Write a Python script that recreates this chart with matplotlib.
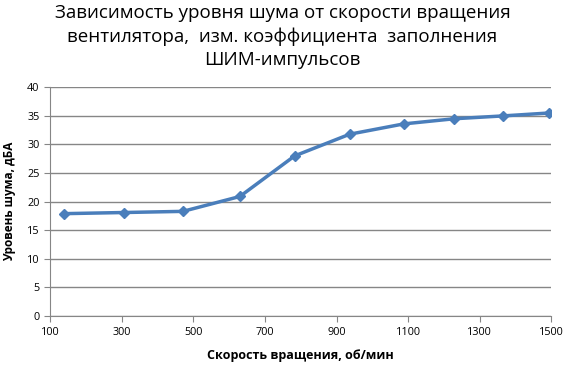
import matplotlib
matplotlib.use("Agg")
import matplotlib.pyplot as plt

# скорость вращения вентилятора, об/мин
speed = [139, 307, 471, 630, 783, 937, 1088, 1229, 1366, 1492]
# уровень шума, дБА
noise = [17.9, 18.1, 18.3, 20.9, 28.0, 31.8, 33.6, 34.5, 35.0, 35.5]

xticks = [100, 300, 500, 700, 900, 1100, 1300, 1500]
yticks = [0, 5, 10, 15, 20, 25, 30, 35, 40]

plt.rcParams['font.family'] = ['Open Sans', 'DejaVu Sans']

fig = plt.figure(figsize=(5.65, 3.68), dpi=100)
ax = fig.add_axes([0.0885, 0.1413, 0.8875, 0.6215])

ax.plot(speed, noise, color='#4a7ebb', lw=2.5, marker='D', ms=5.5,
        markeredgecolor='#4a7ebb', markerfacecolor='#4a7ebb', zorder=3)

ax.set_xlim(100, 1500)
ax.set_ylim(0, 40)
ax.set_xticks(xticks)
ax.set_yticks(yticks)
ax.grid(axis='y', color='#868686', lw=1)
ax.set_axisbelow(True)

for s in ['top', 'right']:
    ax.spines[s].set_visible(False)
for s in ['left', 'bottom']:
    ax.spines[s].set_color('#868686')
ax.tick_params(colors='#868686', length=4, labelcolor='black', labelsize=7.8)
ax.tick_params(axis='x', pad=4)

ax.set_xlabel('Скорость вращения, об/мин', fontsize=9, fontweight='bold', labelpad=8)
ax.set_ylabel('Уровень шума, дБА', fontsize=8.5, fontweight='bold', labelpad=8)

fig.text(0.5, 0.99, 'Зависимость уровня шума от скорости вращения\n'
         'вентилятора,  изм. коэффициента  заполнения\nШИМ-импульсов',
         ha='center', va='top', fontsize=13.5, linespacing=1.38)

fig.savefig('out.png', dpi=100)
